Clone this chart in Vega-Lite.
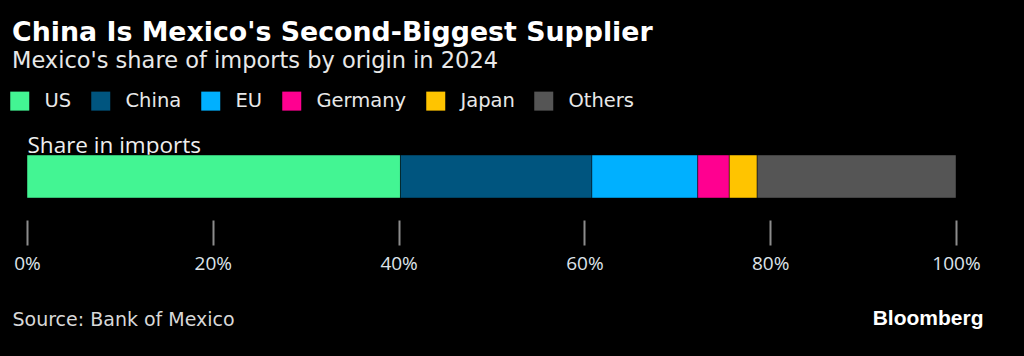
{
  "$schema": "https://vega.github.io/schema/vega-lite/v6.json",
  "autosize": {"type": "none"},
  "width": 929,
  "height": 43,
  "padding": {"left": 27, "top": 155, "right": 68, "bottom": 158},
  "background": "#000000",
  "config": {"view": {"stroke": null}},
  "title": {
    "text": "China Is Mexico's Second-Biggest Supplier",
    "subtitle": "Mexico's share of imports by origin in 2024",
    "anchor": "start",
    "frame": "group",
    "dx": -15,
    "offset": 19,
    "font": "DejaVu Sans",
    "fontSize": 26.8,
    "fontWeight": "bold",
    "color": "#ffffff",
    "subtitleFont": "DejaVu Sans",
    "subtitleFontSize": 22.5,
    "subtitleColor": "#e8e8e8",
    "subtitlePadding": 3
  },
  "data": {
    "values": [
      {"cat": "Share in imports", "origin": "US", "share": 40.2, "idx": 1},
      {"cat": "Share in imports", "origin": "China", "share": 20.6, "idx": 2},
      {"cat": "Share in imports", "origin": "EU", "share": 11.4, "idx": 3},
      {"cat": "Share in imports", "origin": "Germany", "share": 3.4, "idx": 4},
      {"cat": "Share in imports", "origin": "Japan", "share": 3.0, "idx": 5},
      {"cat": "Share in imports", "origin": "Others", "share": 21.4, "idx": 6}
    ]
  },
  "encoding": {
    "x": {
      "field": "share",
      "type": "quantitative",
      "stack": "zero",
      "scale": {"domain": [0, 100], "nice": false},
      "axis": {
        "orient": "bottom",
        "offset": 22,
        "domain": false,
        "grid": false,
        "values": [0, 20, 40, 60, 80, 100],
        "labelExpr": "datum.value + '%'",
        "labelFlush": false,
        "tickSize": 25,
        "tickWidth": 2,
        "tickColor": "#8c8c8c",
        "labelPadding": 9,
        "labelFont": "Open Sans",
        "labelFontSize": 19,
        "labelColor": "#dde3ea",
        "title": "Source: Bank of Mexico",
        "titleFont": "DejaVu Sans",
        "titleFontSize": 19,
        "titleFontWeight": "normal",
        "titleColor": "#d8d8d8",
        "titleAlign": "left",
        "titleAnchor": "start",
        "titleBaseline": "alphabetic",
        "titleX": -15,
        "titleY": 105
      }
    },
    "y": {
      "field": "cat",
      "type": "nominal",
      "scale": {"paddingInner": 0, "paddingOuter": 0}
    },
    "color": {
      "field": "origin",
      "type": "nominal",
      "scale": {
        "domain": ["US", "China", "EU", "Germany", "Japan", "Others"],
        "range": ["#43f593", "#00557f", "#00b0ff", "#ff0090", "#ffc400", "#555555"]
      },
      "legend": {
        "orient": "none",
        "legendX": -17,
        "legendY": -64,
        "direction": "horizontal",
        "title": null,
        "symbolType": "square",
        "symbolSize": 361,
        "symbolStrokeWidth": 0,
        "symbolOpacity": 1,
        "labelFont": "DejaVu Sans",
        "labelFontSize": 19.5,
        "labelColor": "#e8e8e8",
        "labelOffset": 15,
        "columnPadding": 19
      }
    },
    "order": {"field": "idx", "type": "quantitative"}
  },
  "layer": [
    {
      "mark": {"type": "bar", "stroke": "#000000", "strokeOpacity": 0.45, "strokeWidth": 1},
      "encoding": {
        "y": {
          "field": "cat",
          "type": "nominal",
          "scale": {"paddingInner": 0, "paddingOuter": 0},
          "axis": {
            "orient": "left",
            "labels": false,
            "ticks": false,
            "domain": false,
            "title": "Share in imports",
            "titleAngle": 0,
            "titleAlign": "left",
            "titleBaseline": "alphabetic",
            "titleX": 0,
            "titleY": -3,
            "titleFont": "Open Sans",
            "titleFontSize": 22.5,
            "titleFontWeight": "normal",
            "titleColor": "#eeeeee"
          }
        }
      }
    },
    {
      "mark": {"type": "bar", "opacity": 0},
      "encoding": {
        "y": {
          "field": "cat",
          "type": "nominal",
          "scale": {"paddingInner": 0, "paddingOuter": 0},
          "axis": {
            "orient": "right",
            "labels": false,
            "ticks": false,
            "domain": false,
            "title": "Bloomberg",
            "titleAngle": 0,
            "titleAlign": "right",
            "titleBaseline": "alphabetic",
            "titleX": 27,
            "titleY": 169,
            "titleFont": "Liberation Sans",
            "titleFontSize": 21,
            "titleFontWeight": "bold",
            "titleColor": "#ffffff"
          }
        }
      }
    }
  ],
  "resolve": {"axis": {"y": "independent"}}
}
